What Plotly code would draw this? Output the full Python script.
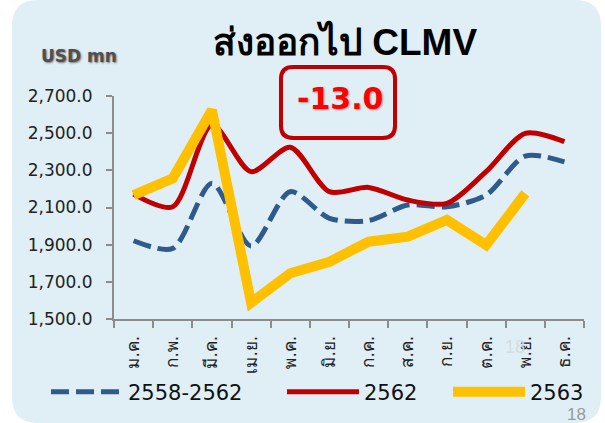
import plotly.graph_objects as go

months = ["ม.ค.", "ก.พ.", "มี.ค.", "เม.ย.", "พ.ค.", "มิ.ย.",
          "ก.ค.", "ส.ค.", "ก.ย.", "ต.ค.", "พ.ย.", "ธ.ค."]
avg_5y = [1921, 1880, 2230, 1893, 2185, 2042, 2030, 2113, 2104, 2167, 2377, 2346]
y2562 = [2172, 2104, 2545, 2293, 2424, 2185, 2208, 2140, 2122, 2293, 2499, 2454]
y2563 = [2167, 2257, 2625, 1588, 1746, 1808, 1916, 1943, 2033, 1898, 2176]
yticks = [1500, 1700, 1900, 2100, 2300, 2500, 2700]

W, H = 605, 423
L, R, T, B = 114, 584, 96, 319


def px_x(x):
    return (x - L) / (R - L)


def px_y(y):
    return (B - y) / (B - T)


def rounded_rect(x0, y0, x1, y1, r):
    # pixel coords -> paper path with quadratic corners
    pts = [
        ("M", x0 + r, y0), ("L", x1 - r, y0), ("Q", x1, y0, x1, y0 + r),
        ("L", x1, y1 - r), ("Q", x1, y1, x1 - r, y1),
        ("L", x0 + r, y1), ("Q", x0, y1, x0, y1 - r),
        ("L", x0, y0 + r), ("Q", x0, y0, x0 + r, y0),
    ]
    out = []
    for p in pts:
        cmd, vals = p[0], p[1:]
        coords = []
        for i in range(0, len(vals), 2):
            coords.append(f"{px_x(vals[i]):.4f},{px_y(vals[i+1]):.4f}")
        out.append(cmd + " ".join(coords))
    return " ".join(out) + " Z"


def label(text, x, y, **font):
    fig.add_annotation(text=text, xref="paper", yref="paper",
                       x=px_x(x), y=px_y(y), xanchor="center", yanchor="middle",
                       showarrow=False, font=font)


fig = go.Figure()
fig.add_trace(go.Scatter(x=months, y=avg_5y, name="2558-2562", mode="lines",
                         legend="legend",
                         line=dict(color="#2F5A8C", width=5, dash="18px,7px",
                                   shape="spline", smoothing=0.8)))
fig.add_trace(go.Scatter(x=months, y=y2562, name="2562", mode="lines",
                         legend="legend2",
                         line=dict(color="#C00000", width=5,
                                   shape="spline", smoothing=0.8)))
fig.add_trace(go.Scatter(x=months[:len(y2563)], y=y2563, name="2563", mode="lines",
                         legend="legend3",
                         line=dict(color="#FFC000", width=10)))

fig.add_shape(type="path", xref="paper", yref="paper", layer="below",
              path=rounded_rect(12, 0, 601, 423, 26),
              fillcolor="#E0EFF5", line=dict(width=0))
fig.add_shape(type="path", xref="paper", yref="paper",
              path=rounded_rect(281, 67, 395, 138, 12),
              line=dict(color="#C00000", width=4))

label("<b>ส่งออกไป CLMV</b>", 345, 42, size=37, color="#000000",
      family="Liberation Sans")
label("<b>USD mn</b>", 79, 56, size=17, color="#4F4F4F",
      family="DejaVu Sans", shadow="1px 1px 2px #777777")
label("<b>-13.0</b>", 340, 98, size=30, color="#FF0000",
      family="DejaVu Sans", shadow="1px 1px 2px #999999")
label("18", 515, 347, size=18, color="#D3DDE2", family="Liberation Sans")
label("18", 576, 414, size=17, color="#9A9A9A", family="Liberation Sans")

fig.update_xaxes(showline=True, linecolor="#8C8C8C", linewidth=2,
                 ticks="outside", tickson="boundaries", ticklen=7,
                 tickcolor="#8C8C8C", tickwidth=2, tickangle=-90,
                 showgrid=False, range=[-0.5, 11.5], ticklabelstandoff=8,
                 tickfont=dict(size=17, color="#222222", family="DejaVu Sans"))
fig.update_yaxes(showline=True, linecolor="#8C8C8C", linewidth=2,
                 ticks="outside", ticklen=6, tickcolor="#8C8C8C", tickwidth=2,
                 tickvals=yticks, tickformat=",.1f", range=[1500, 2700],
                 showgrid=False, zeroline=False, ticklabelstandoff=10,
                 tickfont=dict(size=17, color="#222222", family="DejaVu Sans"))

leg = dict(orientation="h", xanchor="left", yanchor="middle", y=px_y(392),
           itemwidth=72, bgcolor="rgba(0,0,0,0)",
           font=dict(size=21, color="#111111", family="DejaVu Sans"))

fig.update_layout(
    width=W, height=H,
    margin=dict(l=L, r=W - R, t=T, b=H - B, autoexpand=False),
    paper_bgcolor="white", plot_bgcolor="rgba(0,0,0,0)",
    showlegend=True,
    legend=dict(leg, x=px_x(46)),
    legend2=dict(leg, x=px_x(282)),
    legend3=dict(leg, x=px_x(448)),
)

fig.write_html("out.html", config={"displayModeBar": False},
               post_script="document.body.style.margin='0';")
